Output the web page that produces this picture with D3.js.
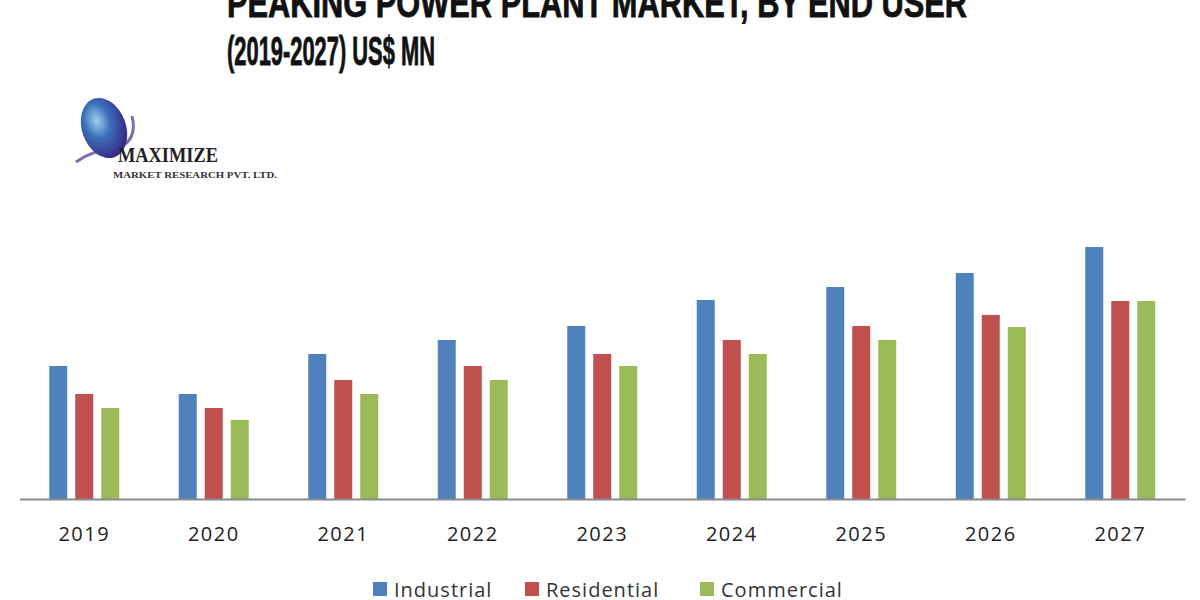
<!DOCTYPE html>
<html><head><meta charset="utf-8">
<script src="https://cdn.jsdelivr.net/npm/d3@7/dist/d3.min.js"></script>
<style>body{margin:0;background:#fff}svg{display:block}</style>
</head><body>
<svg id="c" width="1200" height="600"></svg>
<script>
const years = ["2019","2020","2021","2022","2023","2024","2025","2026","2027"];
const seriesNames = ["Industrial","Residential","Commercial"];
const industrial  = [133,105,145,159,173,199,212,226,252];
const residential = [105, 91,119,133,145,159,173,184,198];
const commercial  = [ 91, 79,105,119,133,145,159,172,198];
const colors = ["#4f81bd","#c0504d","#9bbb59"];

const svg = d3.select("#c");
const data = [industrial, residential, commercial];

const x = d3.scaleBand().domain(years).range([19.5,1185]).padding(0);
const x1 = d3.scaleBand().domain(seriesNames).range([-35,35]).paddingInner(0.3077).paddingOuter(0);
const y = d3.scaleLinear().domain([0,252]).range([499,247]);

// title
const title = svg.append("g").attr("font-family","'Liberation Sans Narrow','Arial Narrow',sans-serif")
  .attr("font-weight","bold").attr("font-size",40).attr("fill","#111")
  .attr("stroke","#111").attr("stroke-width",0.8);
title.append("text").attr("x",227).attr("y",17).attr("textLength",740).attr("lengthAdjust","spacingAndGlyphs")
  .text("PEAKING POWER PLANT MARKET, BY END USER");
title.append("text").attr("x",227).attr("y",65).attr("textLength",208).attr("lengthAdjust","spacingAndGlyphs")
  .text("(2019-2027) US$ MN");

// logo
const defs = svg.append("defs");
const g1 = defs.append("radialGradient").attr("id","glob").attr("cx","40%").attr("cy","35%").attr("r","65%");
g1.append("stop").attr("offset","0%").attr("stop-color","#9fd0f0");
g1.append("stop").attr("offset","45%").attr("stop-color","#3a6fb8");
g1.append("stop").attr("offset","100%").attr("stop-color","#3a2a8a");
const logo = svg.append("g");
logo.append("path").attr("d","M76,162 Q92,150 118,148 Q138,140 132,116")
  .attr("fill","none").attr("stroke","#5a4aa0").attr("stroke-width",3).attr("opacity",0.8);
logo.append("ellipse").attr("cx",104).attr("cy",128).attr("rx",22).attr("ry",31)
  .attr("transform","rotate(-20,104,128)").attr("fill","url(#glob)");
logo.append("text").attr("x",118).attr("y",162).attr("font-family","'Liberation Serif','DejaVu Serif',serif")
  .attr("font-weight","bold").attr("font-size",22).attr("fill","#222").attr("textLength",100).attr("lengthAdjust","spacingAndGlyphs").text("MAXIMIZE");
logo.append("text").attr("x",113).attr("y",178).attr("font-family","'Liberation Serif','DejaVu Serif',serif")
  .attr("font-weight","bold").attr("font-size",9).attr("fill","#333").attr("textLength",164).attr("lengthAdjust","spacingAndGlyphs").text("MARKET RESEARCH PVT. LTD.");

// bars
const groups = svg.append("g").selectAll("g").data(years).join("g")
  .attr("transform", d => `translate(${x(d)+x.bandwidth()/2},0)`);
groups.selectAll("rect").data((d,i) => seriesNames.map((s,j) => ({s, v:data[j][i], c:colors[j]})))
  .join("rect")
  .attr("x", d => x1(d.s)).attr("width", x1.bandwidth())
  .attr("y", d => y(d.v)).attr("height", d => y(0)-y(d.v))
  .attr("fill", d => d.c);

// axis
const ax = svg.append("g").attr("transform","translate(0,499)")
  .call(d3.axisBottom(x).tickSize(0).tickPadding(28).tickSizeOuter(0));
ax.select(".domain").attr("stroke","#8a8a8a").attr("stroke-width",2);
ax.selectAll("text").attr("font-family","'Open Sans','DejaVu Sans',sans-serif").attr("font-size",20)
  .attr("letter-spacing",1.5).attr("fill","#222");

// legend
const legX = [373, 525, 700];
const leg = svg.append("g").selectAll("g").data(seriesNames).join("g")
  .attr("transform",(d,i)=>`translate(${legX[i]},0)`);
leg.append("rect").attr("x",0).attr("y",582).attr("width",14).attr("height",14).attr("fill",(d,i)=>colors[i]);
leg.append("text").attr("x",21).attr("y",597).attr("font-family","'Open Sans','DejaVu Sans',sans-serif")
  .attr("font-size",20).attr("letter-spacing",1).attr("fill","#333").text(d=>d);
</script>
</body></html>
